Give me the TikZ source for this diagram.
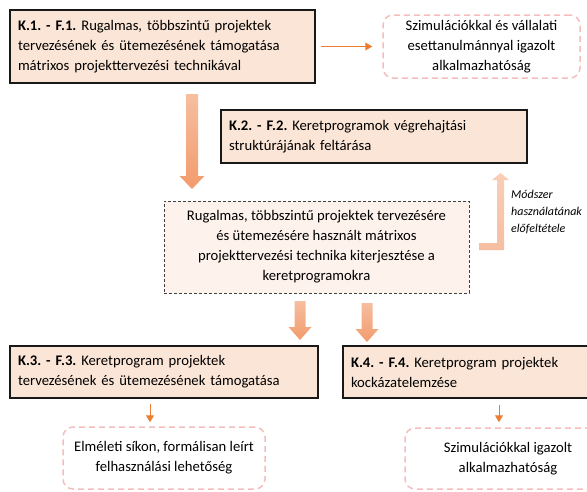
\documentclass[tikz,border=0pt]{standalone}
\usepackage{fontspec}
\setmainfont{Carlito}
\usepackage{tikz}
\usetikzlibrary{calc,arrows.meta}
\frenchspacing

\definecolor{peach}{HTML}{FBE5D6}
\definecolor{paleback}{HTML}{FDF2EC}
\definecolor{pinkline}{HTML}{F6BDBD}
\definecolor{orangeline}{HTML}{ED7D31}
\definecolor{arrtop}{HTML}{F6BEA0}
\definecolor{arrbot}{HTML}{F29B6C}

% #1 top, #2 tip, #3 shaft half width, #4 head half width
\newcommand{\fatarrow}[4]{%
  \shade[top color=arrtop, bottom color=arrbot]
    ($(#1)+(-#3,0)$) -- ($(#1)+(#3,0)$) -- ($(#2)+(#3,13)$) -- ($(#2)+(#4,13)$)
    -- (#2) -- ($(#2)+(-#4,13)$) -- ($(#2)+(-#3,13)$) -- cycle;}

\begin{document}
\begin{tikzpicture}[x=1pt, y=1pt, font=\fontsize{14.67}{20}\selectfont,
    kbox/.style={draw=black!90, line width=1.5pt, fill=peach, align=left, inner xsep=8pt},
    simbox/.style={draw=pinkline, line width=1.5pt, dash pattern=on 6pt off 4pt, rounded corners=10pt, fill=white, align=center},
    midbox/.style={draw=black!75, line width=0.8pt, dash pattern=on 3pt off 2pt, fill=paleback, align=center},
    thinarr/.style={draw=orangeline, line width=1pt, -{Triangle[length=7pt,width=8pt]}}]
    \useasboundingbox (0,0) rectangle (587,-491);
    \clip (0,0) rectangle (587,-491);

    \node[kbox, text width=289pt, minimum height=73pt] (K1) at (162.5,-46.5)
        {\textbf{K.1. - F.1.} Rugalmas, többszintű projektek\\tervezésének és ütemezésének támogatása\\mátrixos projekttervezési technikával};
    \node[simbox, minimum width=197pt, minimum height=63pt] (S1) at (481.5,-46.5)
        {Szimulációkkal és vállalati\\esettanulmánnyal igazolt\\alkalmazhatóság};
    \node[kbox, text width=290pt, minimum height=53pt] (K2) at (374,-136.5)
        {\textbf{K.2. - F.2.} Keretprogramok végrehajtási\\struktúrájának feltárása};
    \node[midbox, minimum width=305pt, minimum height=92pt] (M) at (316.5,-247)
        {Rugalmas, többszintű projektek tervezésére\\és ütemezésére használt mátrixos\\projekttervezési technika kiterjesztése a\\keretprogramokra};
    \node[kbox, text width=292pt, minimum height=52pt] (K3) at (164,-372)
        {\textbf{K.3. - F.3.} Keretprogram projektek\\tervezésének és ütemezésének támogatása};
    \node[kbox, text width=292pt, minimum height=52pt] (K4) at (497,-372)
        {\textbf{K.4. - F.4.} Keretprogram projektek\\kockázatelemzése};
    \node[simbox, minimum width=202pt, minimum height=62pt] (E3) at (164,-458)
        {Elméleti síkon, formálisan leírt\\felhasználási lehetőség};
    \node[simbox, minimum width=206pt, minimum height=61pt] (S4) at (508,-458.5)
        {Szimulációkkal igazolt\\alkalmazhatóság};
    \node[font=\fontsize{12}{17}\selectfont\itshape, align=left, anchor=west, inner sep=0pt] (L) at (511,-212)
        {Módszer\\használatának\\előfeltétele};

    \coordinate (A1) at (192,-94);  \coordinate (A1t) at (192,-189);
    \coordinate (A3) at (300,-301); \coordinate (A3t) at (300,-340);
    \coordinate (A4) at (367,-303); \coordinate (A4t) at (367,-342);
    \fatarrow{A1}{A1t}{6}{12.5}
    \fatarrow{A3}{A3t}{5.5}{11.5}
    \fatarrow{A4}{A4t}{5.5}{11.5}
    \shade[top color=arrtop!75!white, bottom color=arrtop] (479,-250) -- (504,-250) -- (504,-180) -- (509,-180)
        -- (500.5,-173) -- (492,-180) -- (497,-180) -- (497,-243) -- (479,-243) -- cycle;

    \draw[thinarr, shorten <=5pt, shorten >=10pt] (K1.east) -- (S1.west);
    \draw[thinarr, shorten <=5pt, shorten >=4pt] ([xshift=-14pt]K3.south) -- ([xshift=-14pt]E3.north);
    \draw[thinarr, shorten <=6pt, shorten >=5pt] ([xshift=2pt]K4.south) -- ([xshift=2pt]K4.south |- S4.north);
\end{tikzpicture}
\end{document}
